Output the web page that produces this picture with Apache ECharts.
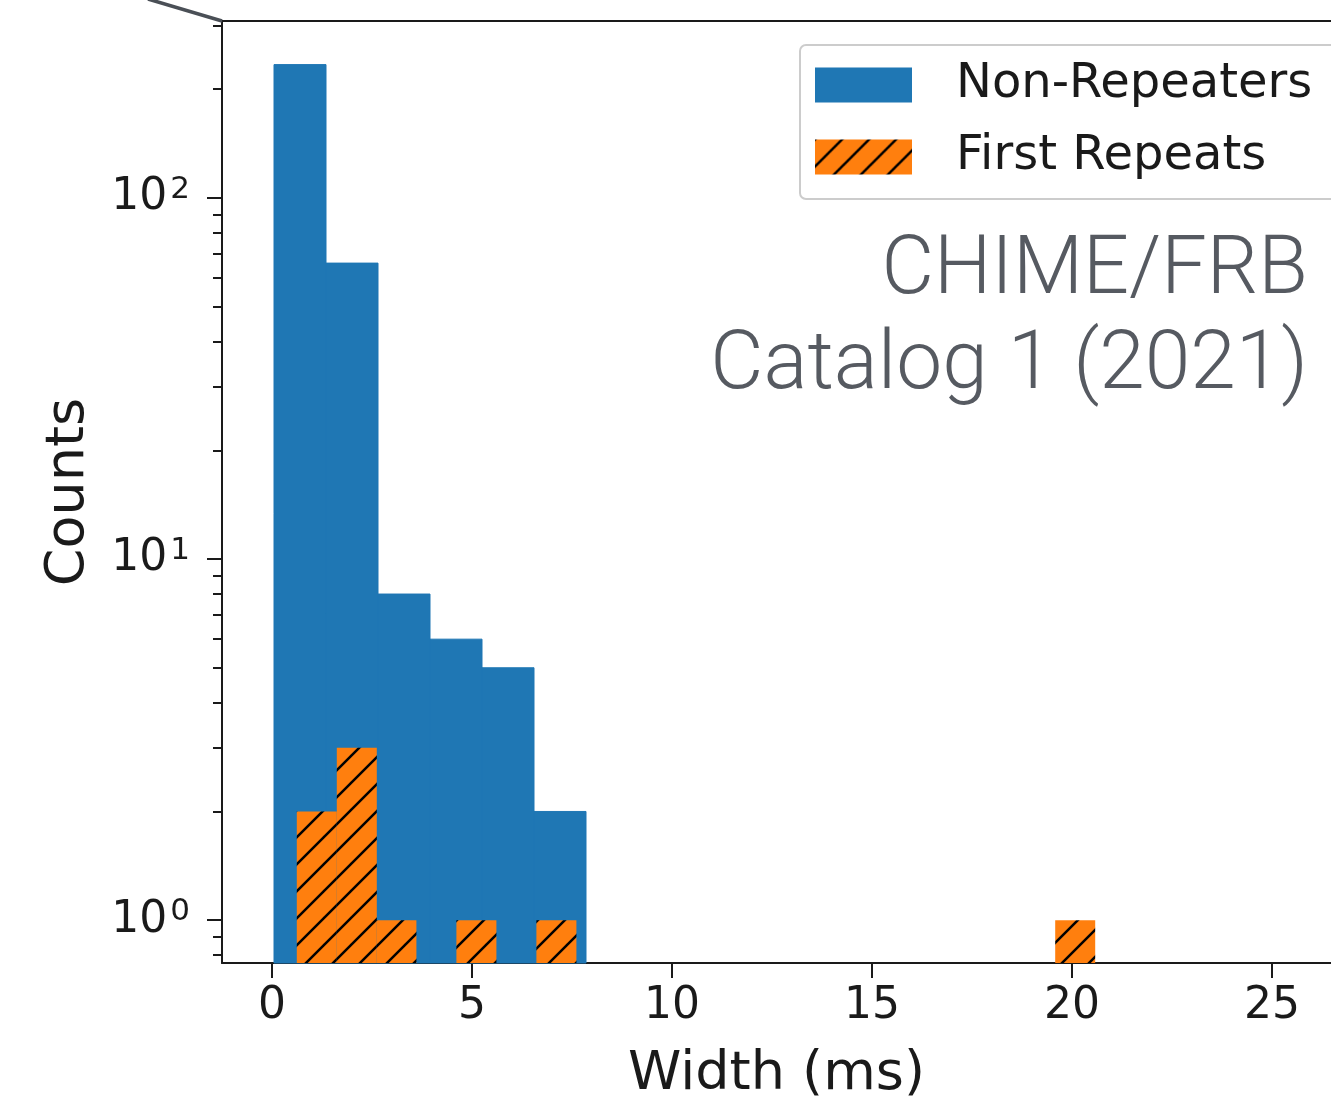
<!DOCTYPE html>
<html>
<head>
<meta charset="utf-8">
<title>Burst width histogram</title>
<script src="https://cdn.jsdelivr.net/npm/echarts@6/dist/echarts.min.js"></script>
<style>
  html, body { margin: 0; padding: 0; background: #ffffff; }
  #chart { width: 1331px; height: 1099px; }
</style>
</head>
<body>
<div id="chart"></div>
<script>
// Histogram bins (ms) and counts
const nonRepBinEdges = [0.05, 1.35, 2.65, 3.95, 5.25, 6.55, 7.85];
const nonRepCounts = [234, 66, 8, 6, 5, 2];

const firstRepBinEdges = [0.62, 1.62, 2.62, 3.61, 4.61, 5.61, 6.61, 7.61, 8.6, 9.6, 10.6,
  11.6, 12.6, 13.59, 14.59, 15.59, 16.59, 17.58, 18.58, 19.58, 20.58];
const firstRepCounts = [2, 3, 1, 0, 1, 0, 1, 0, 0, 0, 0, 0, 0, 0, 0, 0, 0, 0, 0, 1];

const seriesNames = ['Non-Repeaters', 'First Repeats'];
const xTicks = [0, 5, 10, 15, 20, 25];
const yMajorTicks = [1, 10, 100];
const yMinorTicks = [0.8, 0.9, 2, 3, 4, 5, 6, 7, 8, 9, 20, 30, 40, 50, 60, 70, 80, 90, 200, 300];
const annotationLines = ['CHIME/FRB', 'Catalog 1 (2021)'];

// Visible axis ranges (the plot runs past the right edge of the page)
const X_MIN = -1.25, X_MAX = 26.475;
const Y_MIN = 0.761, Y_MAX = 309;

const BLUE = '#1f77b4';
const ORANGE = '#ff7f0e';
const INK = '#1a1a1a';
const FONT = 'DejaVu Sans';

// The count axis is logarithmic: values are placed on it as log10(count)
const lg = Math.log10;

// '//' hatch tile for the orange bars
function makeHatch() {
  const s = 27;
  const c = document.createElement('canvas');
  c.width = s; c.height = s;
  const g = c.getContext('2d');
  g.fillStyle = ORANGE;
  g.fillRect(0, 0, s, s);
  g.strokeStyle = '#000000';
  g.lineWidth = 2.5;
  g.lineCap = 'square';
  for (const off of [-s, 0, s]) {
    g.beginPath();
    g.moveTo(off, s);
    g.lineTo(off + s, 0);
    g.stroke();
  }
  return { image: c, repeat: 'repeat' };
}
const hatch = makeHatch();

function toBins(edges, counts) {
  const out = [];
  for (let i = 0; i < counts.length; i++) {
    if (counts[i] > 0) out.push([edges[i], edges[i + 1], lg(counts[i]), counts[i]]);
  }
  return out;
}

function barRenderer(fill, stroke) {
  return function (params, api) {
    const tl = api.coord([api.value(0), api.value(2)]);
    const tr = api.coord([api.value(1), api.value(2)]);
    const cs = params.coordSys;
    const bottom = cs.y + cs.height;
    return {
      type: 'rect',
      shape: { x: tl[0], y: tl[1], width: tr[0] - tl[0], height: bottom - tl[1] },
      style: stroke ? { fill: fill, stroke: stroke, lineWidth: 1 } : { fill: fill }
    };
  };
}

const axisLineStyle = { color: INK, width: 2 };

const chart = echarts.init(document.getElementById('chart'), null, { renderer: 'canvas' });

chart.setOption({
  animation: false,
  backgroundColor: '#ffffff',
  grid: { left: 222, top: 21, right: 0, bottom: 136, outerBoundsMode: 'none', containLabel: false },
  legend: {
    orient: 'vertical',
    left: 800, top: 45,
    icon: 'rect',
    itemWidth: 97, itemHeight: 35, itemGap: 24,
    padding: [16, 30, 18, 15],
    backgroundColor: 'rgba(255,255,255,0.9)',
    borderColor: '#cccccc', borderWidth: 2, borderRadius: 6,
    textStyle: { fontFamily: FONT, fontSize: 48, color: INK, padding: [0, 0, 0, 39] },
    data: [
      { name: seriesNames[0], itemStyle: { color: BLUE } },
      { name: seriesNames[1], itemStyle: { color: hatch } }
    ]
  },
  xAxis: [
    {
      type: 'value', min: X_MIN, max: X_MAX, position: 'bottom',
      name: 'Width (ms)', nameLocation: 'middle', nameGap: 85,
      nameTextStyle: { fontFamily: FONT, fontSize: 54, color: INK },
      axisLine: { show: true, onZero: false, lineStyle: axisLineStyle },
      axisTick: { show: true, length: 15, lineStyle: axisLineStyle, customValues: xTicks },
      axisLabel: { fontFamily: FONT, fontSize: 44, color: INK, margin: 22, customValues: xTicks },
      splitLine: { show: false }
    },
    {
      // top frame line
      type: 'value', min: X_MIN, max: X_MAX, position: 'top',
      axisLine: { show: true, onZero: false, lineStyle: axisLineStyle },
      axisTick: { show: false }, axisLabel: { show: false }, splitLine: { show: false }
    }
  ],
  yAxis: [
    {
      type: 'value', min: lg(Y_MIN), max: lg(Y_MAX), position: 'left',
      name: 'Counts', nameLocation: 'middle', nameGap: 126,
      nameTextStyle: { fontFamily: FONT, fontSize: 54, color: INK },
      axisLine: { show: true, onZero: false, lineStyle: axisLineStyle },
      axisTick: { show: true, length: 15, lineStyle: axisLineStyle, customValues: yMajorTicks.map(lg) },
      axisLabel: {
        margin: 32,
        customValues: yMajorTicks.map(lg),
        formatter: function (v) {
          return '{b|10}{s|' + Math.round(v) + '}';
        },
        rich: {
          b: { fontFamily: FONT, fontSize: 44, color: INK },
          s: { fontFamily: FONT, fontSize: 31, color: INK, verticalAlign: 'top', padding: [0, 0, 16, 3] }
        }
      },
      splitLine: { show: false }
    },
    {
      // minor ticks of the log scale
      type: 'value', min: lg(Y_MIN), max: lg(Y_MAX), position: 'left',
      axisLine: { show: false, onZero: false },
      axisTick: { show: true, length: 9, lineStyle: axisLineStyle, customValues: yMinorTicks.map(lg) },
      axisLabel: { show: false, customValues: yMinorTicks.map(lg) },
      splitLine: { show: false }
    }
  ],
  series: [
    {
      name: seriesNames[0],
      type: 'custom',
      itemStyle: { color: BLUE },
      data: toBins(nonRepBinEdges, nonRepCounts),
      encode: { x: [0, 1], y: 2 },
      renderItem: barRenderer(BLUE, BLUE),
      z: 2
    },
    {
      name: seriesNames[1],
      type: 'custom',
      itemStyle: { color: hatch },
      data: toBins(firstRepBinEdges, firstRepCounts),
      encode: { x: [0, 1], y: 2 },
      renderItem: barRenderer(hatch, null),
      z: 3
    }
  ],
  graphic: [
    {
      type: 'line', silent: true, z: 10,
      shape: { x1: 148, y1: -1, x2: 222, y2: 21 },
      style: { stroke: '#4a4f56', lineWidth: 3.5 }
    },
    {
      type: 'text', silent: true, z: 10,
      style: {
        text: annotationLines[0], x: 1308, y: 273,
        align: 'right', verticalAlign: 'middle',
        fontFamily: 'Roboto', fontWeight: 300, fontSize: 81, fill: '#565a61'
      }
    },
    {
      type: 'text', silent: true, z: 10,
      style: {
        text: annotationLines[1], x: 1308, y: 367,
        align: 'right', verticalAlign: 'middle',
        fontFamily: 'Roboto', fontWeight: 300, fontSize: 82, fill: '#565a61'
      }
    }
  ]
});
</script>
</body>
</html>
